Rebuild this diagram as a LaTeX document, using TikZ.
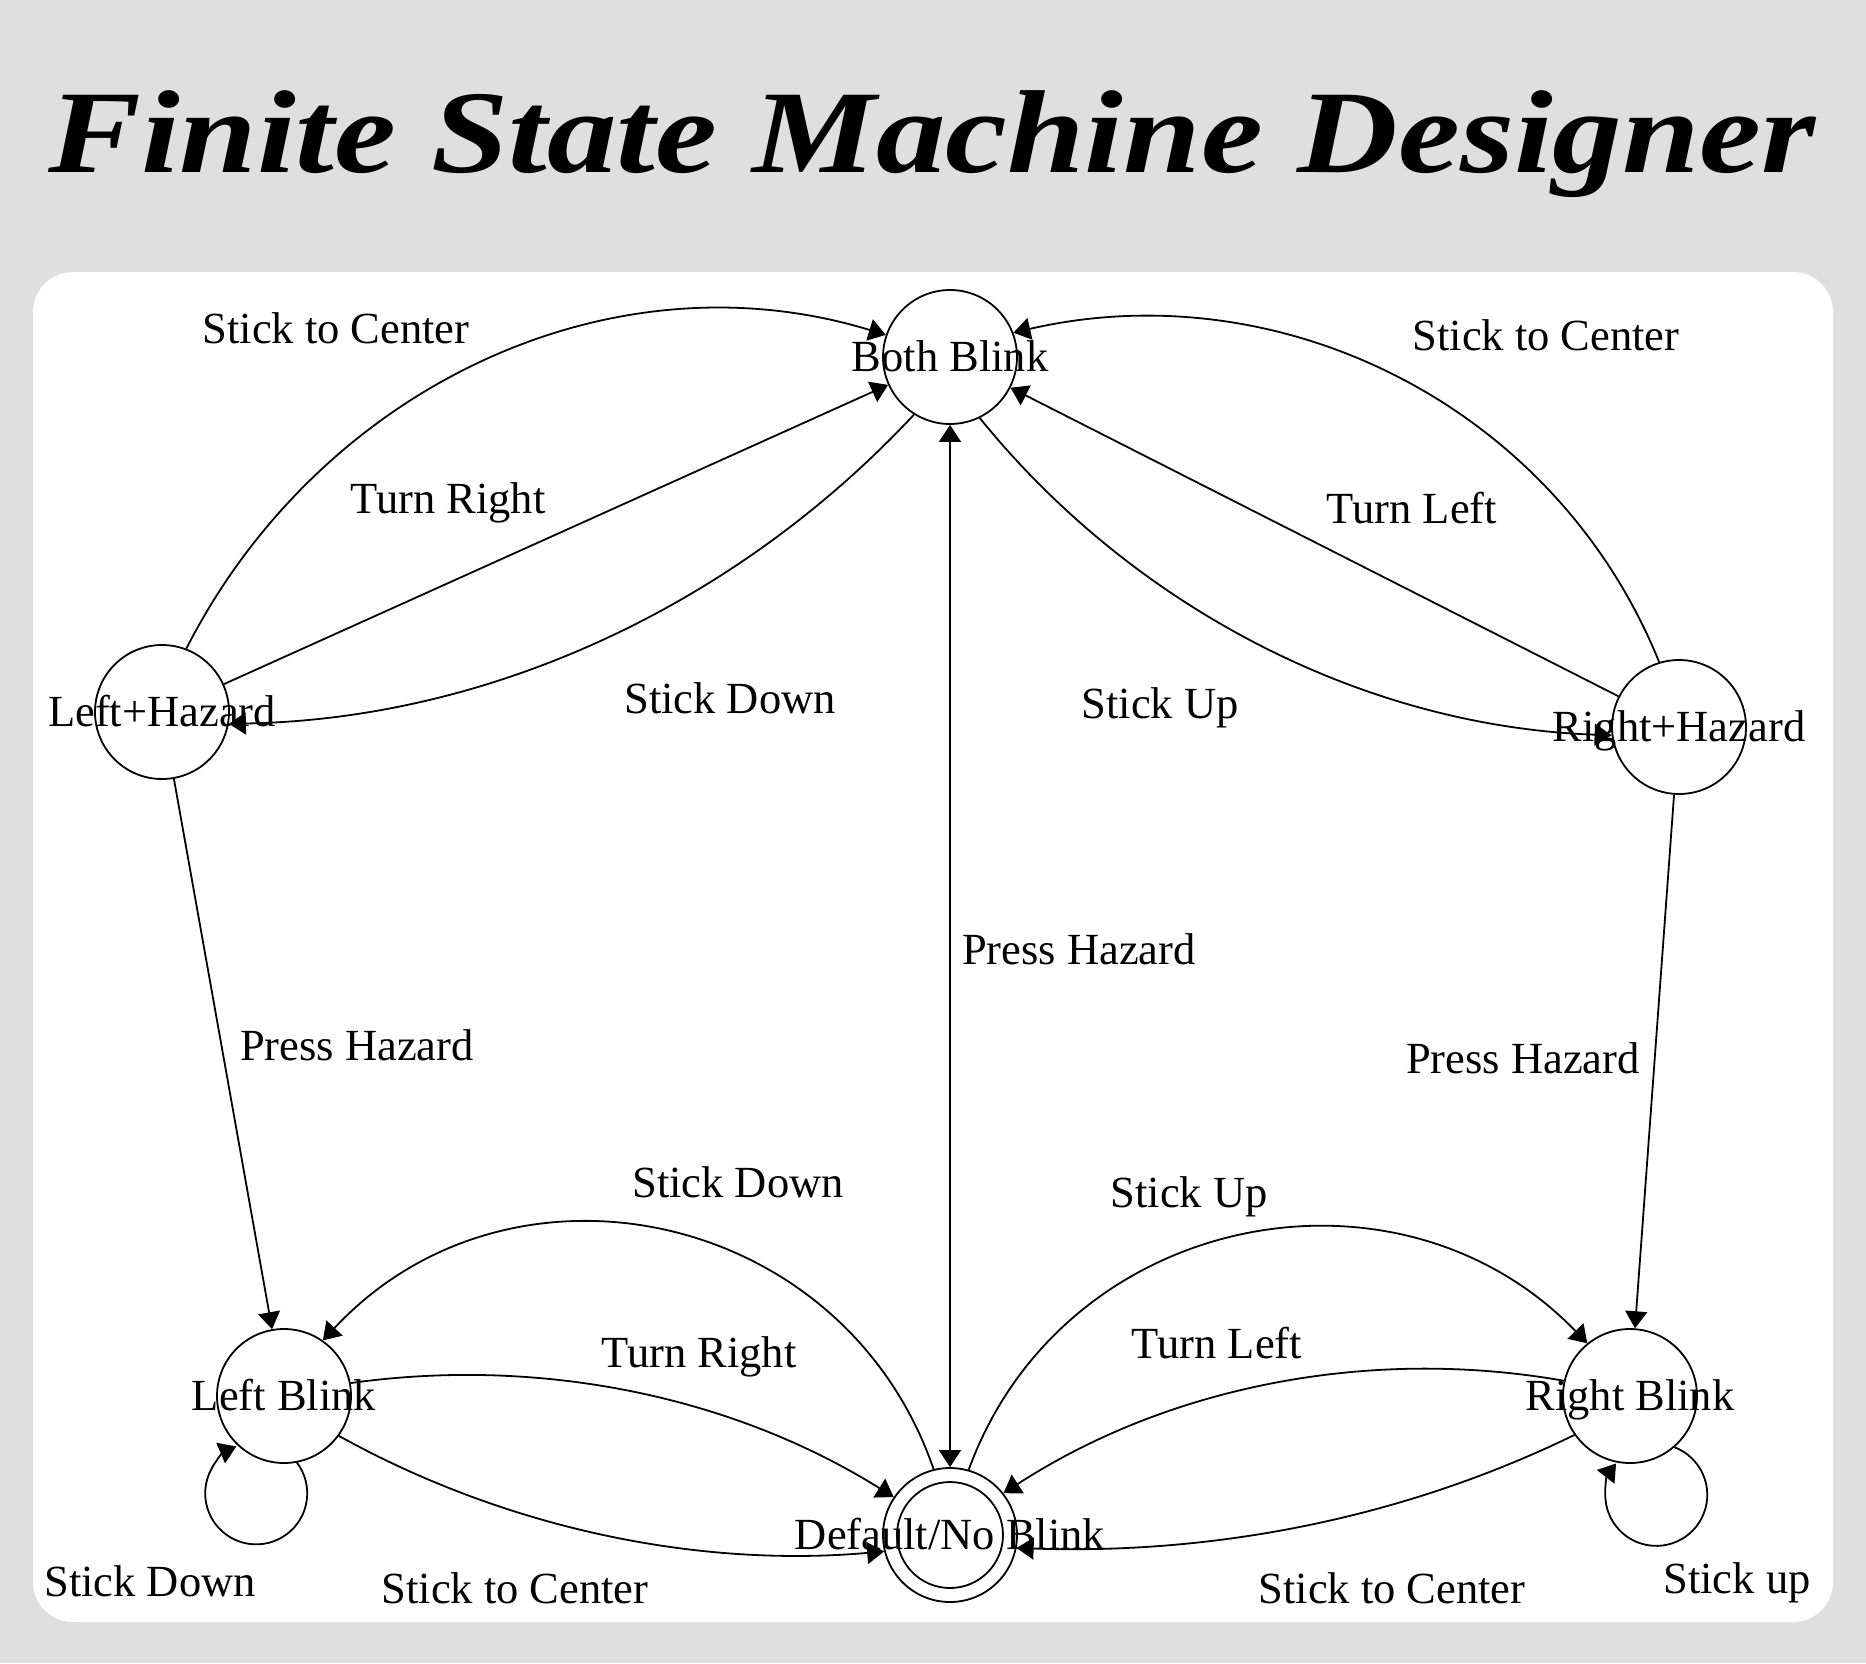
\documentclass[tikz,border=0pt]{standalone}
\usepackage{fontspec}
\setmainfont{Liberation Serif}
\usepackage{graphicx}
\usetikzlibrary{arrows.meta}
\definecolor{bggray}{RGB}{223,223,223}
\newcommand{\sname}[1]{\makebox[0pt]{#1}}

\begin{document}
\begin{tikzpicture}[x=1pt, y=1pt,
  fsmstate/.style={circle, draw, minimum size=134pt, inner sep=0pt, text height=28pt, text depth=0pt},
  tlabel/.style={anchor=base, inner sep=0pt},
  >={Triangle[length=17pt, width=22pt]}, line width=1.8pt,
  font=\fontsize{44.5}{50}\selectfont]
  \useasboundingbox (0,0) rectangle (1866,-1663);
  \fill[bggray] (0,0) rectangle (1866,-1663);
  \fill[white, rounded corners=40pt] (33,-272) rectangle (1833,-1622);
  \node[tlabel, font=\fontsize{118}{130}\selectfont\bfseries\itshape] (title) at (932,-172) {\scalebox{1.18}[1]{Finite State Machine Designer}};
  % states
  \node[fsmstate] (bb) at (950,-357) {\sname{Both Blink}};
  \node[fsmstate] (lh) at (162,-712) {\sname{Left+Hazard}};
  \node[fsmstate] (rh) at (1679,-727) {\sname{Right+Hazard}};
  \node[fsmstate] (lb) at (284,-1396) {\sname{Left Blink}};
  \node[fsmstate] (rb) at (1630,-1396) {\sname{Right Blink}};
  \node[fsmstate] (df) at (950,-1535) {\sname{Default/No Blink}};
  \draw (df.center) circle[radius=53pt];
  % upper half
  \draw[->] (lh.69) to[out=63, in=163, looseness=0.97] (bb.161);
  \node[tlabel] (t1) at (336,-343) {Stick to Center};
  \draw[->] (lh) -- (bb);
  \node[tlabel] (t2) at (448,-513) {Turn Right};
  \draw[->] (bb.238) to[out=227, in=1, looseness=0.89] (lh.350);
  \node[tlabel] (t3) at (730,-713) {Stick Down};
  \draw[->] (rh.107) to[out=112, in=13, looseness=0.97] (bb.21);
  \node[tlabel] (t4) at (1546,-350) {Stick to Center};
  \draw[->] (rh) -- (bb);
  \node[tlabel] (t5) at (1412,-523) {Turn Left};
  \draw[->] (bb.296) to[out=-51, in=178, looseness=0.89] (rh.187);
  \node[tlabel] (t6) at (1160,-718) {Stick Up};
  % hazard
  \draw[<->] (bb) -- (df);
  \node[tlabel] (t7) at (1079,-964) {Press Hazard};
  \draw[->] (lh) -- (lb);
  \node[tlabel] (t8) at (357,-1060) {Press Hazard};
  \draw[->] (rh) -- (rb);
  \node[tlabel] (t9) at (1523,-1073) {Press Hazard};
  % lower half
  \draw[->] (df.104) to[out=109, in=47, looseness=1.13] (lb.55);
  \node[tlabel] (t10) at (738,-1197) {Stick Down};
  \draw[->] (df.74) to[out=70, in=134, looseness=1.11] (rb.129);
  \node[tlabel] (t11) at (1189,-1207) {Stick Up};
  \draw[->] (lb.11) to[out=8, in=148, looseness=0.88] (df.146);
  \node[tlabel] (t12) at (699,-1367) {Turn Right};
  \draw[->] (lb.-36) to[out=-29, in=185, looseness=0.87] (df.194);
  \node[tlabel] (t13) at (515,-1603) {Stick to Center};
  \draw[->] (rb.167) to[out=170, in=33, looseness=0.88] (df.38);
  \node[tlabel] (t14) at (1217,-1358) {Turn Left};
  \draw[->] (rb.215) to[out=206, in=-2, looseness=0.87] (df.-11);
  \node[tlabel] (t15) at (1392,-1603) {Stick to Center};
  % self loops
  \draw[->] (lb.-79) arc[start angle=37, end angle=-247, radius=51pt];
  \node[tlabel] (t16) at (150,-1596) {Stick Down};
  \draw[->] (rb.-49) arc[start angle=69, end angle=-218, radius=51pt];
  \node[tlabel] (t17) at (1737,-1593) {Stick up};
\end{tikzpicture}
\end{document}
